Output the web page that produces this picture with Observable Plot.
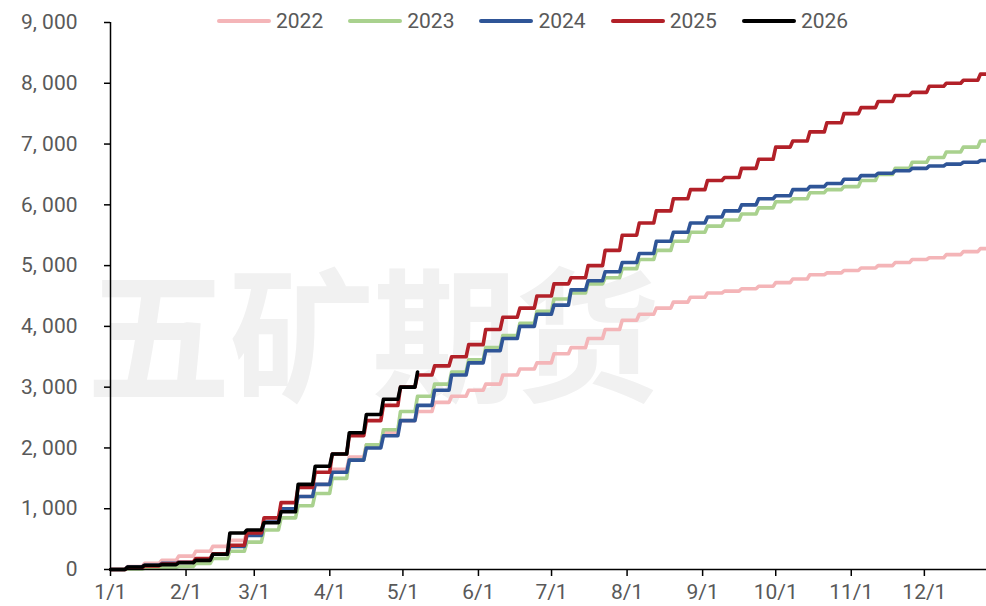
<!DOCTYPE html>
<html>
<head>
<meta charset="utf-8">
<script src="https://cdn.jsdelivr.net/npm/d3@7"></script>
<script src="https://cdn.jsdelivr.net/npm/@observablehq/plot@0.6"></script>
<style>
  html, body { margin: 0; padding: 0; background: #fff; }
  #wrap { position: relative; width: 986px; height: 606px; overflow: hidden; }
  #wm { position: absolute; left: 86px; top: 256px; font-family: "Noto Sans CJK SC", sans-serif; font-weight: 700;
        font-size: 145px; line-height: 1; color: #f1f1f1; white-space: nowrap; letter-spacing: -2px; z-index: 0; }
  #chart { position: absolute; left: 0; top: 0; z-index: 1; }
  #chart svg { background: transparent !important; }
  #legend { position: absolute; left: 217px; top: 9px; z-index: 2; display: flex; align-items: center;
            font-family: Roboto, sans-serif; font-size: 21px; color: #595959; }
  .item { display: flex; align-items: center; margin-right: 25px; }
  .sw { width: 54px; height: 4px; margin-right: 5px; border-radius: 2px; }
</style>
</head>
<body>
<div id="wrap">
  <div id="wm">五矿期货</div>
  <div id="chart"></div>
  <div id="legend"></div>
</div>
<script>
// Weekly cumulative values (week i = Jan 1 + 7*i days)
const years = ["2022", "2023", "2024", "2025", "2026"];
const colors = ["#F4B5B8", "#A9D18E", "#2F5597", "#B22028", "#000000"];

const v2022 = [0,50,100,150,220,300,380,480,620,780,1000,1200,1400,1650,1850,2050,2250,2450,2600,2750,2850,2950,3050,3200,3300,3400,3550,3650,3800,3950,4100,4200,4300,4400,4480,4550,4580,4620,4660,4720,4780,4850,4880,4920,4960,5000,5050,5100,5130,5180,5230,5280];
const v2023 = [0,10,20,35,50,100,180,300,450,650,850,1050,1250,1500,1800,2050,2300,2600,2850,3050,3250,3450,3650,3850,4050,4250,4450,4550,4700,4800,4950,5100,5250,5400,5550,5650,5750,5850,5950,6050,6100,6200,6250,6300,6400,6500,6600,6700,6780,6870,6950,7050];
const v2024 = [0,40,70,100,120,170,250,380,560,780,1000,1200,1400,1600,1800,2000,2200,2450,2700,2950,3200,3400,3600,3800,4000,4200,4350,4600,4750,4900,5050,5200,5400,5550,5700,5800,5900,6000,6100,6150,6250,6300,6350,6420,6480,6520,6560,6600,6640,6670,6700,6730];
const v2025 = [0,30,60,90,120,180,260,400,600,850,1100,1350,1600,1900,2200,2450,2700,3000,3200,3350,3500,3700,3950,4150,4300,4500,4700,4800,5000,5250,5500,5700,5900,6100,6250,6400,6450,6600,6750,6950,7050,7200,7350,7500,7600,7700,7800,7850,7950,8000,8050,8150];
const v2026 = [0,40,70,80,110,150,250,600,650,770,950,1400,1700,1900,2250,2550,2800,3000,3250];
const series = [v2022, v2023, v2024, v2025, v2026];

const yTicks = [0,1000,2000,3000,4000,5000,6000,7000,8000,9000];
const monthLabels = ["1/1","2/1","3/1","4/1","5/1","6/1","7/1","8/1","9/1","10/1","11/1","12/1"];

const base = Date.UTC(2023, 0, 1);
const day = 86400000;
const xEnd = new Date(base + 359.5 * day);
const monthTicks = d3.range(12).map(m => new Date(Date.UTC(2023, m, 1)));

const rows = [];
series.forEach((vals, k) => {
  vals.forEach((v, i) => rows.push({year: years[k], date: new Date(base + 7 * i * day), value: v}));
  if (k < 4) rows.push({year: years[k], date: xEnd, value: vals[vals.length - 1]});
});

// step curve whose risers take about one day (slanted), as in the reference
function slantStep(context) {
  return {
    areaStart() {}, areaEnd() {},
    lineStart() { this._n = 0; },
    lineEnd() {},
    point(x, y) {
      x = +x; y = +y;
      if (this._n === 0) context.moveTo(x, y);
      else if (y !== this._y) {
        const r = Math.min(2.6, (x - this._x) / 2);
        context.lineTo(x - r, this._y);
        context.lineTo(x, y);
      } else context.lineTo(x, y);
      this._n++; this._x = x; this._y = y;
    }
  };
}

const font = 'Roboto, sans-serif';

const plot = Plot.plot({
  width: 986,
  height: 606,
  marginLeft: 110,
  marginRight: 0,
  marginTop: 22,
  marginBottom: 37,
  style: {fontFamily: font, fontSize: "21px", color: "#595959", background: "transparent", overflow: "visible"},
  x: {type: "utc", domain: [new Date(base), xEnd]},
  y: {domain: [0, 9000]},
  color: {domain: years, range: colors},
  marks: [
    Plot.line(rows, {x: "date", y: "value", z: "year", stroke: "year", strokeWidth: 3.6, curve: slantStep, strokeLinejoin: "round", strokeLinecap: "round"}),
    Plot.axisY({ticks: yTicks, tickSize: 6, tickPadding: 27, tickFormat: d => d3.format(",")(d).replace(",", ", "), stroke: "#000", strokeWidth: 1.5, label: null, fill: "#595959"}),
    Plot.axisX({ticks: monthTicks, tickSize: 7, tickPadding: 8, tickFormat: d => monthLabels[d.getUTCMonth()], stroke: "#000", strokeWidth: 1.5, label: null, fill: "#595959"}),
    Plot.ruleX([new Date(base)], {stroke: "#000", strokeWidth: 1.5, y1: 0, y2: 9000}),
    Plot.ruleY([0], {stroke: "#000", strokeWidth: 1.5})
  ]
});
document.getElementById("chart").appendChild(plot);

const legend = document.getElementById("legend");
years.forEach((y, k) => {
  const it = document.createElement("div");
  it.className = "item";
  const sw = document.createElement("div");
  sw.className = "sw";
  sw.style.background = colors[k];
  const t = document.createElement("span");
  t.textContent = y;
  it.appendChild(sw); it.appendChild(t);
  legend.appendChild(it);
});
</script>
</body>
</html>
